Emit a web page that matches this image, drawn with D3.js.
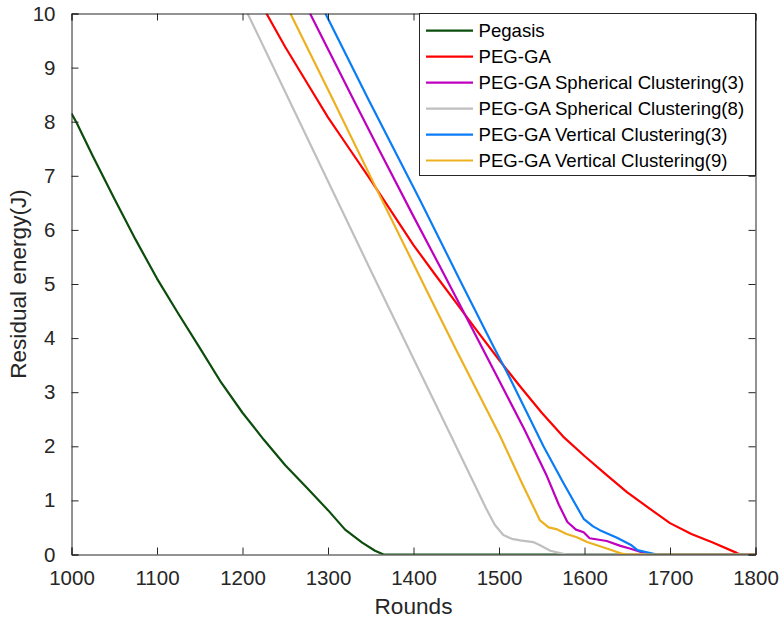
<!DOCTYPE html>
<html>
<head>
<meta charset="utf-8">
<script src="https://cdn.jsdelivr.net/npm/d3@7"></script>
<style>
  html, body { margin: 0; padding: 0; background: #fff; }
  svg { display: block; font-family: "Liberation Sans", Arial, Helvetica, sans-serif; }
</style>
</head>
<body>
<svg id="chart" width="781" height="621"></svg>
<script>
// ---- Data ----
const seriesNames = [
  "Pegasis",
  "PEG-GA",
  "PEG-GA Spherical Clustering(3)",
  "PEG-GA Spherical Clustering(8)",
  "PEG-GA Vertical Clustering(3)",
  "PEG-GA Vertical Clustering(9)"
];
const seriesColors = ["#0b4d0b", "#ff0000", "#bf00bf", "#bfbfbf", "#0a7cf5", "#edb120"];

const pegasisRounds = [1000, 1006, 1025, 1050, 1075, 1100, 1125, 1150, 1175, 1200, 1225, 1250, 1275, 1300, 1320, 1340, 1355, 1365, 1800];
const pegasisEnergy = [8.15, 7.98, 7.36, 6.58, 5.82, 5.10, 4.45, 3.82, 3.18, 2.62, 2.12, 1.65, 1.24, 0.82, 0.46, 0.22, 0.07, 0, 0];

const pegGaRounds = [1228, 1250, 1275, 1300, 1325, 1350, 1375, 1400, 1425, 1450, 1475, 1500, 1525, 1550, 1575, 1600, 1625, 1650, 1675, 1700, 1725, 1750, 1778, 1782, 1800];
const pegGaEnergy = [10, 9.38, 8.73, 8.08, 7.50, 6.92, 6.32, 5.72, 5.18, 4.65, 4.12, 3.60, 3.10, 2.62, 2.18, 1.82, 1.48, 1.15, 0.86, 0.58, 0.38, 0.22, 0.03, 0, 0];

const sph3Rounds = [1279, 1302, 1330, 1360, 1400, 1430, 1458, 1480, 1500, 1530, 1556, 1570, 1580, 1590, 1599, 1606, 1626, 1642, 1653, 1665, 1680, 1800];
const sph3Energy = [10, 9.28, 8.40, 7.47, 6.25, 5.35, 4.50, 3.83, 3.22, 2.30, 1.45, 0.92, 0.60, 0.46, 0.41, 0.30, 0.25, 0.16, 0.11, 0.05, 0, 0];

const sph8Rounds = [1206, 1250, 1300, 1350, 1400, 1440, 1470, 1485, 1495, 1505, 1515, 1525, 1540, 1548, 1560, 1579, 1800];
const sph8Energy = [10, 8.55, 6.90, 5.25, 3.62, 2.32, 1.34, 0.85, 0.55, 0.36, 0.29, 0.26, 0.23, 0.17, 0.07, 0, 0];

const vert3Rounds = [1297, 1347, 1408, 1454, 1495, 1509, 1552, 1575, 1599, 1610, 1618, 1638, 1655, 1662, 1673, 1685, 1800];
const vert3Energy = [10, 8.42, 6.54, 5.08, 3.80, 3.38, 2.00, 1.33, 0.66, 0.52, 0.45, 0.31, 0.17, 0.08, 0.04, 0, 0];

const vert9Rounds = [1256, 1306, 1361, 1421, 1450, 1501, 1528, 1548, 1558, 1567, 1579, 1591, 1603, 1626, 1645, 1650, 1800];
const vert9Energy = [10, 8.40, 6.62, 4.70, 3.78, 2.20, 1.28, 0.63, 0.50, 0.47, 0.38, 0.32, 0.23, 0.11, 0.01, 0, 0];

const xTicks = [1000, 1100, 1200, 1300, 1400, 1500, 1600, 1700, 1800];
const yTicks = [0, 1, 2, 3, 4, 5, 6, 7, 8, 9, 10];
const xLabel = "Rounds";
const yLabel = "Residual energy(J)";

const allRounds = [pegasisRounds, pegGaRounds, sph3Rounds, sph8Rounds, vert3Rounds, vert9Rounds];
const allEnergy = [pegasisEnergy, pegGaEnergy, sph3Energy, sph8Energy, vert3Energy, vert9Energy];

// ---- Layout ----
const svg = d3.select("#chart");
const plotL = 71.5, plotR = 755.5, plotT = 13.5, plotB = 554.5;
const axisColor = "#262626";
const tickFont = 20.5, labelFont = 22.6, legendFont = 18.6;

const x = d3.scaleLinear().domain([1000, 1800]).range([plotL, plotR]);
const y = d3.scaleLinear().domain([0, 10]).range([plotB, plotT]);

svg.append("rect").attr("width", 781).attr("height", 621).attr("fill", "#fff");

svg.append("defs").append("clipPath").attr("id", "plotclip")
  .append("rect").attr("x", plotL).attr("y", plotT).attr("width", plotR - plotL).attr("height", plotB - plotT);

// ---- Lines ----
const line = d3.line().x(d => x(d[0])).y(d => y(d[1]));
const linesG = svg.append("g").attr("clip-path", "url(#plotclip)");
seriesNames.forEach((name, i) => {
  const pts = allRounds[i].map((r, j) => [r, allEnergy[i][j]]);
  linesG.append("path")
    .datum(pts)
    .attr("d", line)
    .attr("fill", "none")
    .attr("stroke", seriesColors[i])
    .attr("stroke-width", 2.2)
    .attr("stroke-linejoin", "round");
});

// ---- Axes ----
const tickLen = 7;
const axB = svg.append("g").attr("transform", `translate(0,${plotB})`)
  .call(d3.axisBottom(x).tickValues(xTicks).tickSize(-tickLen).tickPadding(tickLen + 9).tickFormat(d3.format("d")));
const axT = svg.append("g").attr("transform", `translate(0,${plotT})`)
  .call(d3.axisTop(x).tickValues(xTicks).tickSize(-tickLen).tickFormat(""));
const axL = svg.append("g").attr("transform", `translate(${plotL},0)`)
  .call(d3.axisLeft(y).tickValues(yTicks).tickSize(-tickLen).tickPadding(tickLen + 9).tickFormat(d3.format("d")));
const axR = svg.append("g").attr("transform", `translate(${plotR},0)`)
  .call(d3.axisRight(y).tickValues(yTicks).tickSize(-tickLen).tickFormat(""));

[axB, axT, axL, axR].forEach(g => {
  g.select(".domain").attr("stroke", axisColor).attr("stroke-width", 1);
  g.selectAll(".tick line").attr("stroke", axisColor).attr("stroke-width", 1);
  g.selectAll(".tick text")
    .attr("fill", axisColor)
    .style("font-family", '"Liberation Sans", Arial, sans-serif')
    .style("font-size", tickFont + "px");
});
axB.selectAll(".tick text").attr("dy", "0.71em");

// ---- Axis labels ----
svg.append("text")
  .attr("x", (plotL + plotR) / 2).attr("y", 614)
  .attr("text-anchor", "middle")
  .attr("fill", axisColor)
  .style("font-size", labelFont + "px")
  .text(xLabel);
svg.append("text")
  .attr("transform", `translate(26,${(plotT + plotB) / 2}) rotate(-90)`)
  .attr("text-anchor", "middle")
  .attr("fill", axisColor)
  .style("font-size", labelFont + "px")
  .text(yLabel);

// ---- Legend ----
const legX = 419.5, legY = 13.5, legW = 336, legH = 162;
const leg = svg.append("g");
leg.append("rect")
  .attr("x", legX).attr("y", legY).attr("width", legW).attr("height", legH)
  .attr("fill", "#fff").attr("stroke", axisColor).attr("stroke-width", 1);
const rowY = d3.scalePoint().domain(seriesNames).range([30.7, 160.5]);
seriesNames.forEach((name, i) => {
  const yy = rowY(name);
  leg.append("line")
    .attr("x1", 426).attr("x2", 473).attr("y1", yy).attr("y2", yy)
    .attr("stroke", seriesColors[i]).attr("stroke-width", 2.2);
  leg.append("text")
    .attr("x", 478.5).attr("y", yy).attr("dy", "0.35em")
    .attr("fill", "#000")
    .style("font-size", legendFont + "px")
    .text(name);
});
</script>
</body>
</html>
